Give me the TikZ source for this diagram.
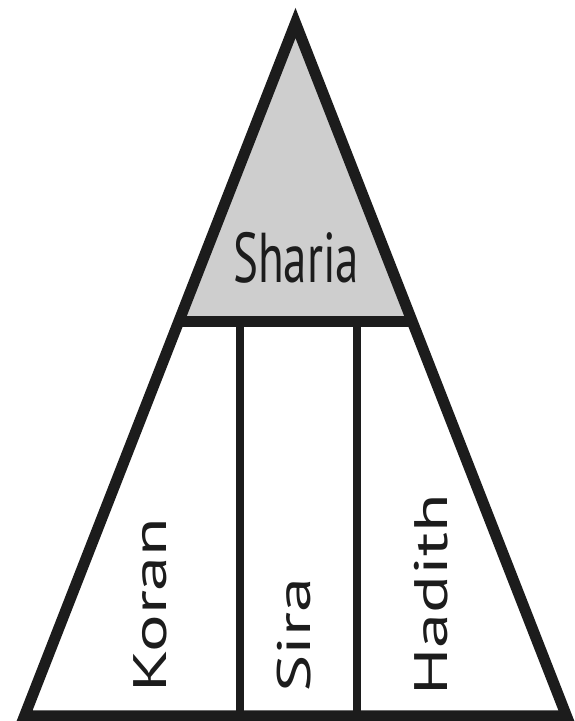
\documentclass[tikz,border=0pt]{standalone}
\usepackage{fontspec}
\setmainfont{PT Sans}
\usetikzlibrary{calc}
\definecolor{InkCol}{RGB}{28,28,28}
\definecolor{TopFill}{RGB}{206,206,206}
\newcommand{\tallword}[1]{\scalebox{1}[1.5]{#1}}
\newcommand{\upword}[1]{\scalebox{1}[1.5]{\rotatebox{90}{#1}}}
\tikzset{
  shedge/.style={line width=11pt, draw=InkCol, miter limit=4},
  shbar/.style={line width=11pt, draw=InkCol},
  shpost/.style={line width=8pt, draw=InkCol},
  shlab/.style={font=\fontsize{47}{47}\selectfont, text=InkCol, inner sep=0pt}
}
\begin{document}
\begin{tikzpicture}[x=1pt,y=1pt]
  \useasboundingbox (0,0) rectangle (574,721);
  \coordinate (apex) at (295.5,698);
  \coordinate (baseL) at (24.5,5);
  \coordinate (baseR) at (566.5,5);
  \coordinate (barL) at ($(apex)!0.4307!(baseL)$);
  \coordinate (barR) at ($(apex)!0.4307!(baseR)$);
  \coordinate (postA) at (240,399.5);
  \coordinate (postB) at (357,399.5);
  % shaded top
  \fill[TopFill] (apex) -- (barL) -- (barR) -- cycle;
  % outline and dividers
  \draw[shbar] (barL) -- (barR);
  \draw[shpost] (postA) -- (postA |- baseL);
  \draw[shpost] (postB) -- (postB |- baseL);
  \draw[shedge] (apex) -- (baseL) -- (baseR) -- cycle;
  % labels
  \node[shlab] (sharia) at (296,463) {\tallword{Sharia}};
  \node[shlab] (koran) at (150,116) {\upword{Koran}};
  \node[shlab] (sira) at (294,86) {\upword{Sira}};
  \node[shlab] (hadith) at (431,126) {\upword{Hadith}};
\end{tikzpicture}
\end{document}
